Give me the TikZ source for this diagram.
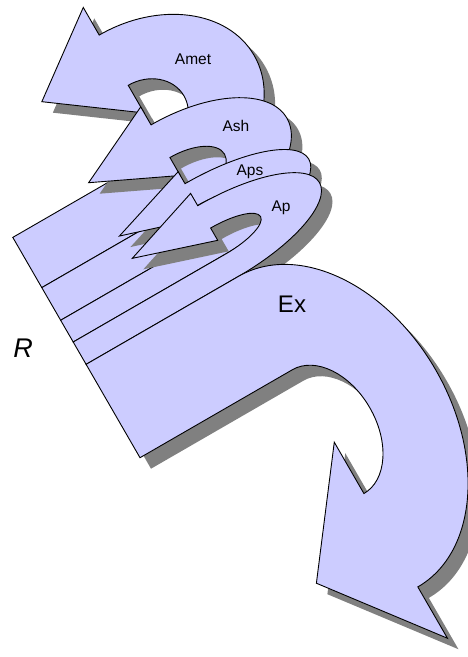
\documentclass[tikz,border=0pt]{standalone}
\usepackage{fontspec}
\setmainfont{Liberation Sans}
\usepackage{tikz}
\usepackage{xcolor}
\definecolor{flowLavender}{RGB}{204,204,255}
\definecolor{shadowGray}{RGB}{128,128,128}

% band that curls back upwards: #1 lower edge, #2 width, #3 inner y radius, #4 inner x radius, #5 outer x radius
\newcommand{\curlup}[5]{(0,#1) -- (176,#1)
  arc[start angle=-90, end angle=90, x radius=#5, y radius={#2+#3}]
  -- (176,{#1+2.55*#2+2*#3}) -- (93,{#1+1.5*#2+2*#3})
  -- (176,{#1+0.45*#2+2*#3}) -- (176,{#1+#2+2*#3})
  arc[start angle=90, end angle=-90, x radius=#4, y radius=#3]
  -- (0,{#1+#2}) -- cycle}
% band that curls back downwards: #1 width, #2 inner y radius, #3 inner x radius, #4 outer x radius
\newcommand{\curldown}[4]{(0,0) -- (176,0)
  arc[start angle=90, end angle=-90, x radius=#3, y radius=#2]
  -- (176,{-2*#2+0.55*#1}) -- (90,{-2*#2-0.5*#1})
  -- (176,{-2*#2-1.55*#1}) -- (176,{-2*#2-#1})
  arc[start angle=-90, end angle=90, x radius=#4, y radius={#1+#2}]
  -- (0,#1) -- cycle}

\begin{document}
\begin{tikzpicture}[x=1pt, y=1pt,
    frame/.style={shift={(140,-457.7)}, rotate=30},
    shade frame/.style={shift={(151,-468.7)}, rotate=30},
    band/.style={fill=flowLavender, draw=black, line width=0.9pt},
    shade/.style={fill=shadowGray},
    flowlabel/.style={anchor=base, inner sep=0pt, font=\fontsize{15.5}{18}\selectfont}]
  \useasboundingbox (0,0) rectangle (468,-657);

  % Amet, Ash, Aps, Ap
  \foreach \lo/\wd/\ry/\rxin/\rxout in {196.4/58/37/43/124, 158.7/37.7/24.3/49/121,
      133.6/25.1/15.5/47/119.5, 107.8/25.8/15/49/117} {
    \fill[shade, shade frame] \curlup{\lo}{\wd}{\ry}{\rxin}{\rxout};
    \filldraw[band, frame] \curlup{\lo}{\wd}{\ry}{\rxin}{\rxout};
  }

  % Ex
  \fill[shade, shade frame] \curldown{107.8}{71.5}{48}{124};
  \filldraw[band, frame] \curldown{107.8}{71.5}{48}{124};

  \node[flowlabel] (amet) at (193,-64) {Amet};
  \node[flowlabel] (ash) at (236,-131.7) {Ash};
  \node[flowlabel] (aps) at (250,-175) {Aps};
  \node[flowlabel] (ap) at (281,-211.7) {Ap};
  \node[flowlabel, font=\fontsize{24}{28}\selectfont] (ex) at (292,-312.3) {Ex};
  \node[flowlabel, font=\fontsize{27}{32}\selectfont\itshape] (r) at (23,-357.3) {R};
\end{tikzpicture}
\end{document}
